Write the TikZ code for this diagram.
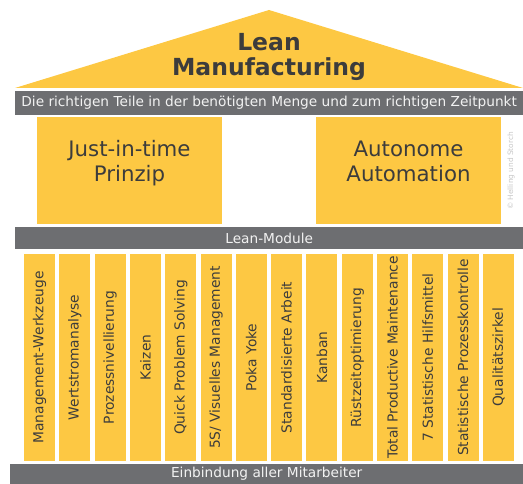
\documentclass[tikz,border=0pt]{standalone}
\usepackage{fontspec}
\setmainfont{DejaVu Sans}
\definecolor{leanyellow}{HTML}{FDC843}
\definecolor{leangray}{HTML}{6D6E71}
\definecolor{leantext}{HTML}{3C3C3C}
\definecolor{bartext}{HTML}{F2F2F2}
\newcommand{\uptext}[1]{\raisebox{6.5pt}[\height][\depth]{\begin{tabular}{@{}c@{}}#1\end{tabular}}}
\begin{document}
\begin{tikzpicture}[x=1pt,y=-1pt,
  bar/.style={fill=leangray, text=bartext, inner sep=0pt, anchor=north west, font=\fontsize{13.7}{15}\selectfont},
  pillar/.style={fill=leanyellow, rotate=90, minimum width=207pt, minimum height=31pt, inner sep=0pt, text=leantext, font=\fontsize{13.8}{15}\selectfont},
  pbox/.style={fill=leanyellow, minimum width=185pt, minimum height=107pt, inner sep=0pt, text=leantext, align=center, font=\fontsize{21.3}{25}\selectfont}]
\useasboundingbox (0,0) rectangle (523,484);
% roof
\fill[leanyellow] (15,88) -- (269,10) -- (523,88) -- cycle;
\node[text=leantext, align=center, font=\bfseries\fontsize{23.5}{25}\selectfont] (title) at (269,56.7) {Lean\\Manufacturing};
% top bar
\node[bar, minimum width=508pt, minimum height=24pt] (goal) at (15,91) {Die richtigen Teile in der benötigten Menge und zum richtigen Zeitpunkt};
% two main boxes
\node[pbox] (jit) at (129.5,170.5) {\uptext{Just-in-time\\Prinzip}};
\node[pbox] (auto) at (408.5,170.5) {\uptext{Autonome\\Automation}};
\node[rotate=90, text=gray!45, font=\fontsize{7.4}{8}\selectfont, inner sep=0pt] (copy) at (511,171) {© Helling und Storch};
% lean module bar
\node[bar, minimum width=508pt, minimum height=22pt] (modules) at (15,227) {Lean-Module};
% pillars
\foreach \t [count=\i from 0] in {Management-Werkzeuge, Wertstromanalyse, Prozessnivellierung, Kaizen, Quick Problem Solving, 5S/ Visuelles Management, Poka Yoke, Standardisierte Arbeit, Kanban, Rüstzeitoptimierung, Total Productive Maintenance, 7 Statistische Hilfsmittel, Statistische Prozesskontrolle, Qualitätszirkel}
  \node[pillar] (p\i) at ({39.5+\i*35.3},357.5) {\t};
% base bar
\node[bar, minimum width=513pt, minimum height=20pt] (base) at (10,464) {Einbindung aller Mitarbeiter};
\end{tikzpicture}
\end{document}
